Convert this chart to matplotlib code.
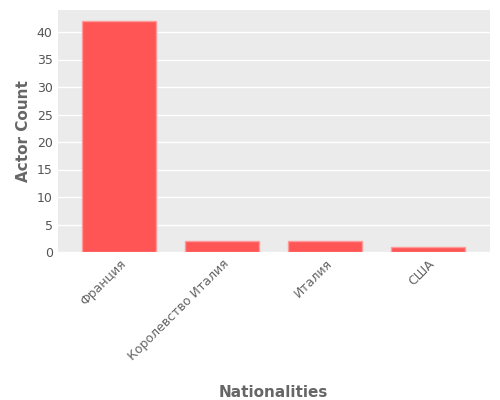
import matplotlib
matplotlib.use("Agg")
import matplotlib.pyplot as plt

nationalities = ["Франция", "Королевство Италия", "Италия", "США"]
actor_counts = [42, 2, 2, 1]

fig, ax = plt.subplots(figsize=(5, 4), dpi=100)
fig.subplots_adjust(left=0.115, right=0.98, bottom=0.37, top=0.975)

ax.set_facecolor("#ebebeb")
ax.grid(True, axis="y", color="white", linewidth=1)
ax.set_axisbelow(True)
for s in ax.spines.values():
    s.set_visible(False)

ax.bar(nationalities, actor_counts, width=0.72, color="#ff5555", edgecolor="#ff9a9a", linewidth=1)
ax.set_xlim(-0.6, 3.6)
ax.set_ylim(0, 44)
ax.set_yticks(range(0, 45, 5))
ax.tick_params(colors="#555555", labelsize=9, length=0)
ax.tick_params(axis="x", labelcolor="#666666")
plt.setp(ax.get_xticklabels(), rotation=45, ha="right", rotation_mode="anchor")

ax.set_xlabel("Nationalities", fontsize=11, color="#666666", fontweight="semibold")
ax.set_ylabel("Actor Count", fontsize=11, color="#666666", fontweight="semibold")
ax.xaxis.set_label_coords(0.5, -0.55)

fig.savefig("out.png")
